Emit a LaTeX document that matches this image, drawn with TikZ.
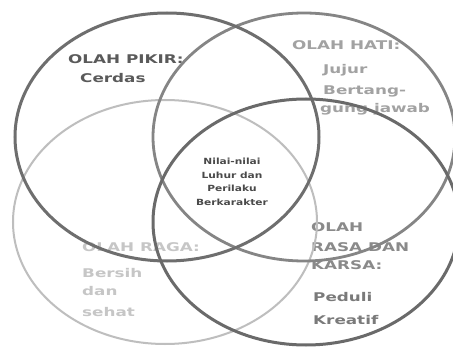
\documentclass[tikz,border=0pt]{standalone}
\usepackage{fontspec}
\newfontfamily\lblfont[FakeStretch=1.4]{DejaVu Sans}
\newfontfamily\ctrfont[FakeStretch=1.25]{DejaVu Sans}
\definecolor{ringA}{HTML}{6E6E6E}
\definecolor{ringB}{HTML}{858585}
\definecolor{ringC}{HTML}{BEBEBE}
\definecolor{ringD}{HTML}{6A6A6A}
\definecolor{txtA}{HTML}{5A5A5A}
\definecolor{txtB}{HTML}{A2A2A2}
\definecolor{txtC}{HTML}{C6C6C6}
\definecolor{txtD}{HTML}{8A8A8A}
\definecolor{txtE}{HTML}{7A7A7A}
\definecolor{txtCore}{HTML}{4A4A4A}
\begin{document}
\begin{tikzpicture}[x=1pt,y=-1pt,
  lbl/.style={anchor=west,inner sep=0pt,font=\lblfont\bfseries\fontsize{12}{14}\selectfont},
  core/.style={align=center,inner sep=0pt,text=txtCore,font=\ctrfont\bfseries\fontsize{8.5}{13.5}\selectfont},
  ring/.style={line width=#1}]
\useasboundingbox (0,0) rectangle (453,350);
\clip (0,0) rectangle (453,350);
\fill[white] (0,0) rectangle (453,350);
% labels
\node[lbl,text=txtA] (pikir) at (68,59) {OLAH PIKIR:};
\node[lbl,text=txtA] (cerdas) at (80,78) {Cerdas};
\node[lbl,text=txtB] (hati) at (292,45) {OLAH HATI:};
\node[lbl,text=txtB] (jujur) at (323,70) {Jujur};
\node[lbl,text=txtB] (bertang) at (323,91) {Bertang-};
\node[lbl,text=txtB] (gung) at (320,109) {gung jawab};
\node[core] (nilai) at (232,182) {Nilai-nilai\\Luhur dan\\Perilaku\\Berkarakter};
\node[lbl,text=txtC] (raga) at (82,247) {OLAH RAGA:};
\node[lbl,text=txtC] (bersih) at (82,273) {Bersih};
\node[lbl,text=txtC] (dan) at (82,291) {dan};
\node[lbl,text=txtC] (sehat) at (82,312) {sehat};
\node[lbl,text=txtD] (olah) at (311,227) {OLAH};
\node[lbl,text=txtD] (rasa) at (311,247) {RASA DAN};
\node[lbl,text=txtD] (karsa) at (311,265) {KARSA:};
\node[lbl,text=txtE] (peduli) at (313,297) {Peduli};
\node[lbl,text=txtE] (kreatif) at (313,320) {Kreatif};
% ellipses
\draw[ring=2pt,ringC] (165,222) ellipse [x radius=152pt, y radius=122pt];
\draw[ring=2.8pt,ringB] (304,137) ellipse [x radius=151pt, y radius=124pt];
\draw[ring=3pt,ringA] (167,137) ellipse [x radius=152pt, y radius=124pt];
\draw[ring=3pt,ringD] (306,222) ellipse [x radius=153pt, y radius=123pt];
\end{tikzpicture}
\end{document}
